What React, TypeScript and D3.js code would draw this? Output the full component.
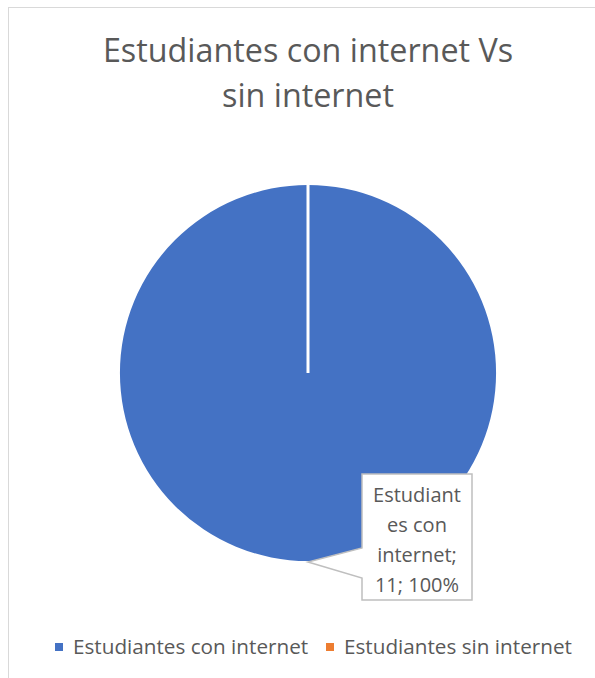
import React from "react";
import * as d3 from "d3";

const categories = ["Estudiantes con internet", "Estudiantes sin internet"];
const values = [11, 0];
const colors = ["#4472C4", "#ED7D31"];
const titleLines = ["Estudiantes con internet Vs", "sin internet"];

const W = 595;
const H = 678;
const FONT = "'Open Sans', sans-serif";
const TEXT = "#595959";

export default function App() {
  const cx = 308;
  const cy = 373;
  const r = 188;
  const total = d3.sum(values);
  const pie = d3.pie<number>().sort(null).value((d) => d);
  const arcs = pie(values);
  const arcGen = d3.arc<d3.PieArcDatum<number>>().innerRadius(0).outerRadius(r);
  const pct = d3.format(".0%");

  const first = arcs[0];
  const sx = r * Math.sin(first.startAngle);
  const sy = -r * Math.cos(first.startAngle);
  const mid = (first.startAngle + first.endAngle) / 2;
  const tipX = cx + (r + 1) * Math.sin(mid);
  const tipY = cy - (r + 1) * Math.cos(mid);

  const name = categories[0];
  const labelLines = [
    name.slice(0, 9),
    name.slice(9, 15),
    name.slice(16) + ";",
    `${values[0]}; ${pct(values[0] / total)}`,
  ];

  const bx0 = 362, bx1 = 472, by0 = 474, by1 = 600;
  const calloutPath = `M${bx0},${by0}H${bx1}V${by1}H${bx0}V578L${tipX},${tipY}L${bx0},548Z`;

  const legendX = [55, 326];

  return (
    <svg
      width={W}
      height={H}
      style={{ position: "absolute", left: 0, top: 0, display: "block" }}
    >
      <rect x={0} y={0} width={W} height={H} fill="#fff" />
      <rect x={8.5} y={7.5} width={700} height={800} fill="#fff" stroke="#D9D9D9" strokeWidth={1} />
      {titleLines.map((t, i) => (
        <text
          key={i}
          x={308}
          y={62 + i * 45}
          textAnchor="middle"
          fontFamily={FONT}
          fontSize={32.3}
          fill={TEXT}
        >
          {t}
        </text>
      ))}
      <g transform={`translate(${cx},${cy})`}>
        {arcs.map((a, i) => (
          <path key={i} d={arcGen(a) || ""} fill={colors[i]} />
        ))}
        <line x1={0} y1={0} x2={sx} y2={sy - 2} stroke="#fff" strokeWidth={3} />
      </g>
      <path d={calloutPath} fill="#fff" stroke="#BFBFBF" strokeWidth={1.5} />
      {labelLines.map((t, i) => (
        <text
          key={i}
          x={(bx0 + bx1) / 2}
          y={502 + i * 30}
          textAnchor="middle"
          fontFamily={FONT}
          fontSize={20}
          fill={TEXT}
        >
          {t}
        </text>
      ))}
      {categories.map((c, i) => (
        <g key={c}>
          <rect x={legendX[i]} y={643} width={8} height={8} fill={colors[i]} />
          <text x={legendX[i] + 18} y={654} fontFamily={FONT} fontSize={20.7} fill={TEXT}>
            {c}
          </text>
        </g>
      ))}
    </svg>
  );
}
